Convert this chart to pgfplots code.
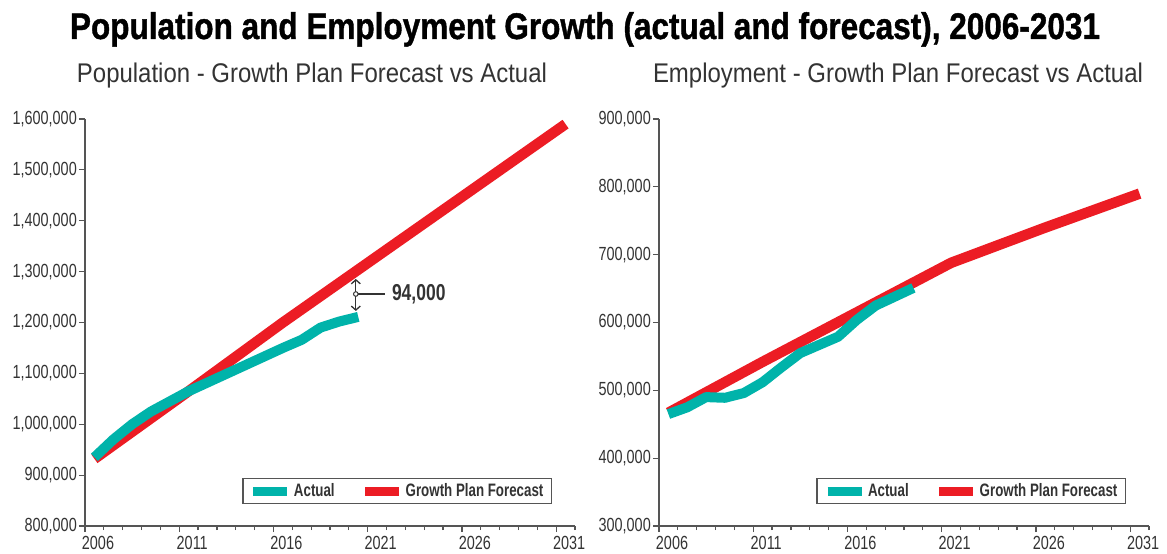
\documentclass[border=0pt]{standalone}
\usepackage{fontspec}
\setmainfont{Liberation Sans}
\newfontfamily\tickfont{Liberation Sans}[FakeStretch=0.76]
\newfontfamily\legfont{Liberation Sans}[FakeStretch=0.74]
\newfontfamily\annfont{Liberation Sans}[FakeStretch=0.76]
\newfontfamily\titlefont{Liberation Sans}[FakeBold=1.2]
\usepackage{graphicx}
\usepackage{pgfplots}
\pgfplotsset{compat=1.18}
\usetikzlibrary{arrows.meta}
\definecolor{tealc}{HTML}{00B3AA}
\definecolor{redc}{HTML}{EC1C24}
\definecolor{axisgray}{HTML}{555555}
\definecolor{txtgray}{HTML}{333333}
\pgfplotsset{myax/.style={
  scale only axis, width=490pt, height=407pt, xmin=0, xmax=26,
  axis lines=left, axis line style={draw=axisgray, line width=1.5pt, -},
  tick style={draw=axisgray, line width=1.2pt},
  tick align=outside, major tick length=6pt, minor tick length=4pt,
  xtick={0,5,...,25}, xticklabels={2006,2011,2016,2021,2026,2031},
  minor xtick={1,...,26},
  /pgf/number format/assume math mode=true,
  xticklabel style={font=\tickfont\fontsize{19}{20}\selectfont, text=txtgray, xshift=13pt, anchor=north, inner sep=0pt, yshift=-4pt},
  yticklabel style={font=\tickfont\fontsize{19}{20}\selectfont, text=txtgray, anchor=east, inner sep=0pt, xshift=-2pt},
  scaled y ticks=false,
  clip=false,
  reverse legend,
  legend columns=2,
  legend style={at={(rel axis cs:0.953,0.054)}, anchor=south east, draw=axisgray, line width=1.2pt,
    font=\legfont\bfseries\fontsize{18}{20}\selectfont, text=txtgray, inner xsep=6pt, inner ysep=3pt,
    /tikz/every even column/.append style={column sep=24pt}},
  legend image code/.code={\draw[#1, line width=9pt, line cap=butt] (0pt,0pt) -- (34pt,0pt);},
}}
\begin{document}
\begin{tikzpicture}
\path[use as bounding box] (0pt,0pt) rectangle (1167pt,554pt);
\node[anchor=base] at (585pt,515pt) {\resizebox{1030pt}{\height}{\titlefont\bfseries\fontsize{37}{38}\selectfont Population and Employment Growth (actual and forecast), 2006-2031}};
\node[anchor=base, text=txtgray] at (312pt,471pt) {\resizebox{470pt}{\height}{\fontsize{27}{28}\selectfont Population - Growth Plan Forecast vs Actual}};
\node[anchor=base, text=txtgray] at (898pt,471pt) {\resizebox{490pt}{\height}{\fontsize{27}{28}\selectfont Employment - Growth Plan Forecast vs Actual}};

\begin{axis}[myax, at={(85pt,28pt)}, anchor=south west,
  ymin=800000, ymax=1600000,
  ytick={800000,900000,1000000,1100000,1200000,1300000,1400000,1500000,1600000},
  yticklabels={{800,000},{900,000},{1,000,000},{1,100,000},{1,200,000},{1,300,000},{1,400,000},{1,500,000},{1,600,000}}]
\addplot[redc, line width=10.5pt, line join=round] coordinates {
 (0.5,932000) (5.5,1065000) (10.5,1200000) (15.5,1330000) (20.5,1460000) (25.5,1590000)};
\addlegendentry{Growth Plan Forecast}
\addplot[tealc, line width=10pt, line join=round] coordinates {
 (0.5,935000) (1.5,970000) (2.5,1000000) (3.5,1025000) (4.5,1045000) (5.5,1065000)
 (6.5,1082000) (7.5,1099000) (8.5,1116000) (9.5,1133000) (10.5,1150000)
 (11.5,1166000) (12.5,1190000) (13.5,1202000) (14.5,1211000)};
\addlegendentry{Actual}
\draw[{Straight Barb[length=4pt,width=9pt]}-{Straight Barb[length=4pt,width=9pt]}, line width=1.3pt, txtgray] (axis cs:14.37,1285600) -- (axis cs:14.37,1222700);
\draw[line width=1.3pt, txtgray] (axis cs:14.37,1256000) -- (axis cs:15.9,1256000);
\filldraw[fill=white, draw=txtgray, line width=1pt] (axis cs:14.37,1256000) circle (2.3pt);
\node[anchor=west, inner sep=0pt, text=txtgray, font=\annfont\bfseries\fontsize{23}{24}\selectfont] at (axis cs:16.28,1256000) {94,000};
\end{axis}

\begin{axis}[myax, at={(659pt,28pt)}, anchor=south west,
  ymin=300000, ymax=900000,
  ytick={300000,400000,500000,600000,700000,800000,900000},
  yticklabels={{300,000},{400,000},{500,000},{600,000},{700,000},{800,000},{900,000}}]
\addplot[redc, line width=10.5pt, line join=round] coordinates {
 (0.5,467000) (5.5,542000) (10.5,615000) (15.5,688000) (20.5,740000) (25.5,790000)};
\addlegendentry{Growth Plan Forecast}
\addplot[tealc, line width=10pt, line join=round] coordinates {
 (0.5,465000) (1.5,475000) (2.5,490000) (3.5,489000) (4.5,496000) (5.5,512000)
 (6.5,534000) (7.5,555000) (8.5,567000) (9.5,579000) (10.5,604000)
 (11.5,625000) (12.5,638000) (13.5,651000)};
\addlegendentry{Actual}
\end{axis}
\end{tikzpicture}
\end{document}
